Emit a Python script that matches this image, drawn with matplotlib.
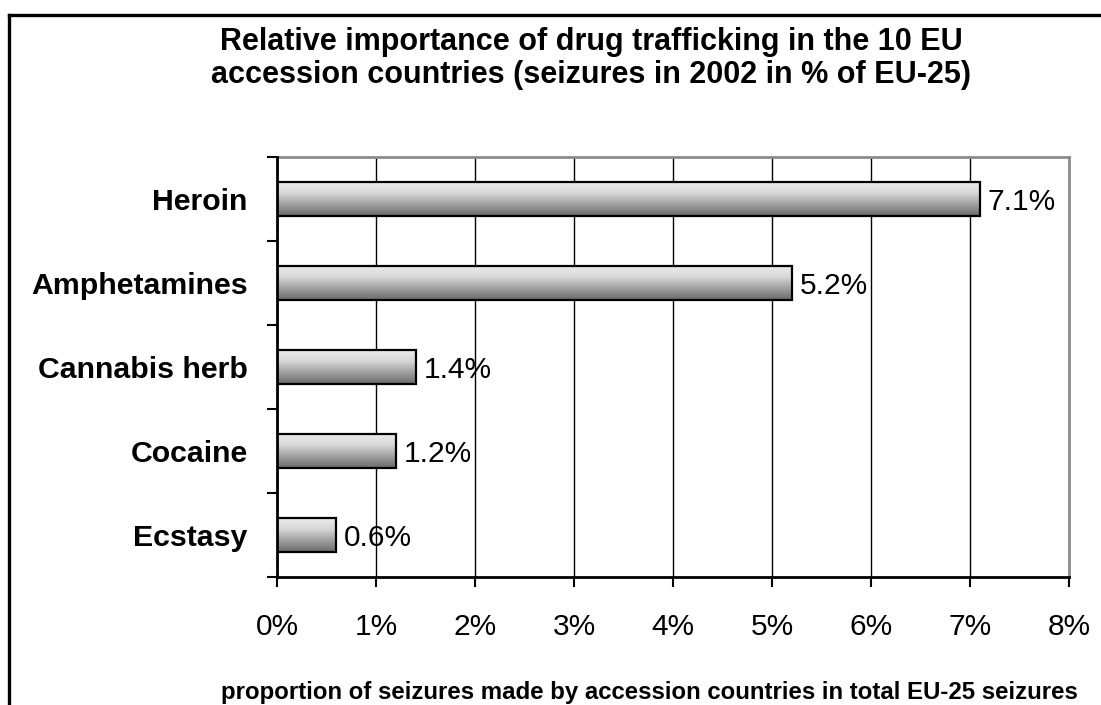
import matplotlib
matplotlib.use("Agg")
import matplotlib.pyplot as plt
import numpy as np
from matplotlib.lines import Line2D
from matplotlib.colors import LinearSegmentedColormap

categories = ["Heroin", "Amphetamines", "Cannabis herb", "Cocaine", "Ecstasy"]
values = [7.1, 5.2, 1.4, 1.2, 0.6]
xticks = [0, 1, 2, 3, 4, 5, 6, 7, 8]
xtick_labels = ["0%", "1%", "2%", "3%", "4%", "5%", "6%", "7%", "8%"]
title_lines = ["Relative importance of drug trafficking in the 10 EU",
               "accession countries (seizures in 2002 in % of EU-25)"]
xlabel = "proportion of seizures made by accession countries in total EU-25 seizures"

plt.rcParams['font.family'] = ['Liberation Sans', 'DejaVu Sans']

W, H = 1101, 705
fig = plt.figure(figsize=(W / 100, H / 100), dpi=100)
ax = fig.add_axes([277 / W, 1 - 577 / H, (1069 - 277) / W, (577 - 157) / H])

ypos = np.arange(len(categories))
bars = ax.barh(ypos, values, height=0.41, color='none', edgecolor='black',
               linewidth=1.6, zorder=3)

# vertical gradient fill (light top -> dark bottom)
grad = np.linspace(0, 1, 256).reshape(-1, 1)
cmap = LinearSegmentedColormap.from_list("g", ["#ececec", "#d8d8d8", "#a0a0a0", "#6a6a6a"])
for b in bars:
    x0, y0 = b.get_x(), b.get_y()
    w, h = b.get_width(), b.get_height()
    im = ax.imshow(grad, extent=(x0, x0 + w, y0 + h, y0), aspect='auto',
                   cmap=cmap, origin='upper', zorder=2.5)
    im.set_clip_path(b)

for v, y in zip(values, ypos):
    ax.text(v + 0.08, y + 0.03, f"{v:.1f}%", va='center', ha='left', fontsize=21.5, zorder=4)

ax.set_xlim(0, 8)
ax.set_ylim(len(categories) - 0.5, -0.5)
ax.set_xticks(xticks)
ax.set_xticklabels(xtick_labels, fontsize=21.5)
ax.tick_params(axis='x', direction='out', length=7, width=1.5, pad=19, color='black')

ax.set_yticks(np.arange(-0.5, len(categories), 1.0))
ax.set_yticklabels([])
ax.set_yticks(ypos, minor=True)
ax.set_yticklabels(categories, minor=True, fontsize=21.8, fontweight='bold')
ax.tick_params(axis='y', which='major', direction='out', length=7, width=1.5)
ax.tick_params(axis='y', which='minor', length=0, pad=21)

ax.grid(axis='x', color='black', linewidth=1.0, zorder=1)
ax.set_axisbelow(True)

for s in ['top', 'right']:
    ax.spines[s].set_color('#8c8c8c')
    ax.spines[s].set_linewidth(2)
for s in ['left', 'bottom']:
    ax.spines[s].set_color('black')
    ax.spines[s].set_linewidth(2)
    ax.spines[s].set_zorder(5)

for line, base in zip(title_lines, [50, 83]):
    fig.text(591 / W, 1 - base / H, line, ha='center', va='baseline', fontsize=22,
             fontweight='bold')
fig.text(221 / W, 1 - 692 / H, xlabel, ha='left', va='center', fontsize=17.3,
         fontweight='bold')

# outer frame (top and left edges)
fig.add_artist(Line2D([9 / W, 1.0], [1 - 15 / H, 1 - 15 / H], transform=fig.transFigure,
                      color='black', linewidth=2.4))
fig.add_artist(Line2D([9 / W, 9 / W], [1 - 15 / H, 0.0], transform=fig.transFigure,
                      color='black', linewidth=2.4))

fig.savefig("out.png", dpi=100)
